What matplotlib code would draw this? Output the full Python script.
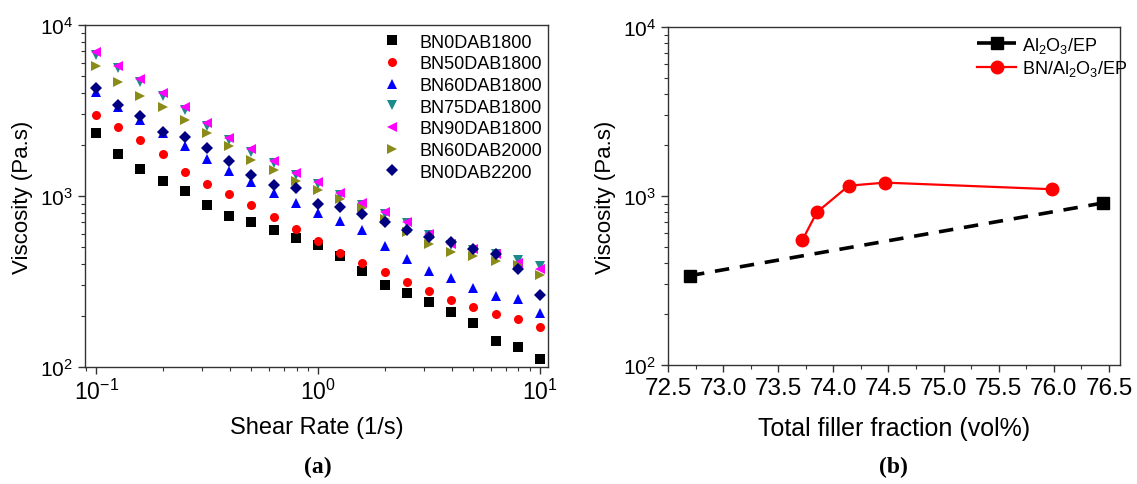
import numpy as np
import matplotlib
matplotlib.use("Agg")
import matplotlib.pyplot as plt
from matplotlib.ticker import LogLocator, NullFormatter, MultipleLocator, FormatStrFormatter

plt.rcParams['font.family'] = ['Liberation Sans', 'DejaVu Sans']
plt.rcParams['mathtext.fontset'] = 'custom'
plt.rcParams['mathtext.rm'] = 'Liberation Sans'
plt.rcParams['mathtext.it'] = 'Liberation Sans'

# ---------------- data (a) ----------------
shear_rate = [0.1, 0.126, 0.158, 0.2, 0.251, 0.316, 0.398, 0.501, 0.631, 0.794,
              1.0, 1.26, 1.58, 2.0, 2.51, 3.16, 3.98, 5.01, 6.31, 7.94, 10.0]

bn0dab1800 = [2350, 1750, 1430, 1220, 1065, 885, 767, 702, 635, 568,
              517, 448, 366, 302, 270, 239, 210, 181, 142, 131, 111]
bn50dab1800 = [2990, 2540, 2134, 1762, 1377, 1176, 1031, 885, 751, 641,
               548, 465, 405, 358, 313, 277, 248, 224, 204, 191, 172]
bn60dab1800 = [4075, 3300, 2781, 2326, 1968, 1645, 1405, 1202, 1041, 910,
               800, 713, 632, 512, 429, 366, 331, 288, 259, 250, 207]
bn75dab1800 = [6700, 5600, 4650, 3850, 3180, 2580, 2120, 1820, 1560, 1330,
               1170, 1015, 890, 790, 695, 590, 520, 485, 455, 420, 390]
bn90dab1800 = [6920, 5780, 4830, 4000, 3300, 2675, 2193, 1883, 1608, 1363,
               1203, 1041, 910, 803, 708, 600, 524, 490, 458, 405, 375]
bn60dab2000 = [5730, 4660, 3864, 3300, 2795, 2335, 1968, 1630, 1426, 1228,
               1088, 960, 855, 733, 614, 524, 472, 443, 419, 395, 345]
bn0dab2200 = [4266, 3405, 2925, 2377, 2204, 1901, 1608, 1334, 1159, 1108,
              898, 859, 785, 702, 635, 573, 535, 490, 458, 372, 262]

series_a = [
    ("BN0DAB1800", bn0dab1800, "s", "black"),
    ("BN50DAB1800", bn50dab1800, "o", "red"),
    ("BN60DAB1800", bn60dab1800, "^", "blue"),
    ("BN75DAB1800", bn75dab1800, "v", "#1a8a8a"),
    ("BN90DAB1800", bn90dab1800, "<", "magenta"),
    ("BN60DAB2000", bn60dab2000, ">", "#8b8b1a"),
    ("BN0DAB2200", bn0dab2200, "D", "#000080"),
]

# ---------------- data (b) ----------------
al2o3_x = [72.7, 76.45]
al2o3_y = [338, 910]
bn_al2o3_x = [73.72, 73.85, 74.14, 74.47, 75.98]
bn_al2o3_y = [550, 801, 1151, 1200, 1097]

xticks_b = [72.5, 73.0, 73.5, 74.0, 74.5, 75.0, 75.5, 76.0, 76.5]

W, H = 1137, 485
fig = plt.figure(figsize=(W / 100, H / 100), dpi=100)

def box(l, t, r, b):
    return [l / W, 1 - b / H, (r - l) / W, (b - t) / H]

axA = fig.add_axes(box(85, 26, 548, 368))
axB = fig.add_axes(box(668, 28, 1120, 366))

for ax in (axA, axB):
    for s in ax.spines.values():
        s.set_color('#333333')
        s.set_linewidth(1.0)
    ax.tick_params(which='both', direction='out', top=False, right=False,
                   labelsize=15, color='#333333')
    ax.tick_params(which='major', length=5, width=1.0)
    ax.tick_params(which='minor', length=3, width=0.8)

# ---- panel a ----
for label, vals, mk, col in series_a:
    ms = 6.5 if mk in ('s', 'o') else 7.5
    if mk == 'D':
        ms = 6.0
    axA.plot(shear_rate, vals, linestyle='none', marker=mk, color=col,
             markersize=ms, label=label, markeredgewidth=0)

axA.set_xscale('log')
axA.set_yscale('log')
axA.set_xlim(10 ** -1.05, 10 ** 1.036)
axA.set_ylim(1e2, 1e4)
axA.xaxis.set_minor_locator(LogLocator(base=10, subs=np.arange(2, 10)))
axA.yaxis.set_minor_locator(LogLocator(base=10, subs=np.arange(2, 10)))
axA.xaxis.set_minor_formatter(NullFormatter())
axA.yaxis.set_minor_formatter(NullFormatter())
axA.tick_params(axis='x', labelsize=16.5)
axA.set_xlabel("Shear Rate (1/s)", fontsize=17)
axA.xaxis.set_label_coords(0.5, (368 - 417) / 342)
axA.set_ylabel("Viscosity (Pa.s)", fontsize=16)
axA.yaxis.set_label_coords((33 - 85) / 463, 0.5)
axA.legend(loc='upper right', frameon=False, fontsize=13,
           handletextpad=1.0, labelspacing=0.26, borderaxespad=0.3,
           handlelength=1.0, bbox_to_anchor=(1.015, 1.012))

# ---- panel b ----
axB.plot(al2o3_x, al2o3_y, color='black', linestyle=(0, (4, 3)), linewidth=2.6,
         marker='s', markersize=8, label=r"Al$_2$O$_3$/EP")
axB.plot(bn_al2o3_x, bn_al2o3_y, color='red', linestyle='-', linewidth=1.6,
         marker='o', markersize=9, label=r"BN/Al$_2$O$_3$/EP")
axB.set_yscale('log')
axB.set_ylim(1e2, 1e4)
axB.set_xlim(72.5, 76.6)
axB.set_xticks(xticks_b)
axB.xaxis.set_major_formatter(FormatStrFormatter('%.1f'))
axB.xaxis.set_minor_locator(MultipleLocator(0.25))
axB.yaxis.set_minor_locator(LogLocator(base=10, subs=np.arange(2, 10)))
axB.yaxis.set_minor_formatter(NullFormatter())
axB.tick_params(axis='x', labelsize=17.5)
axB.set_xlabel("Total filler fraction (vol%)", fontsize=18)
axB.xaxis.set_label_coords(0.5, (366 - 417) / 338)
axB.set_ylabel("Viscosity (Pa.s)", fontsize=16)
axB.yaxis.set_label_coords((616 - 668) / 452, 0.5)
axB.legend(loc='upper right', frameon=False, fontsize=13, handlelength=2.2,
           handletextpad=0.3, labelspacing=0.2, borderaxespad=0.3,
           bbox_to_anchor=(1.044, 1.015))

fig.text(318 / W, 1 - 467 / H, "(a)", ha='center', va='center', fontsize=17,
         fontweight='bold', family='Liberation Serif')
fig.text(893 / W, 1 - 467 / H, "(b)", ha='center', va='center', fontsize=17,
         fontweight='bold', family='Liberation Serif')

fig.savefig("out.png", dpi=100)
